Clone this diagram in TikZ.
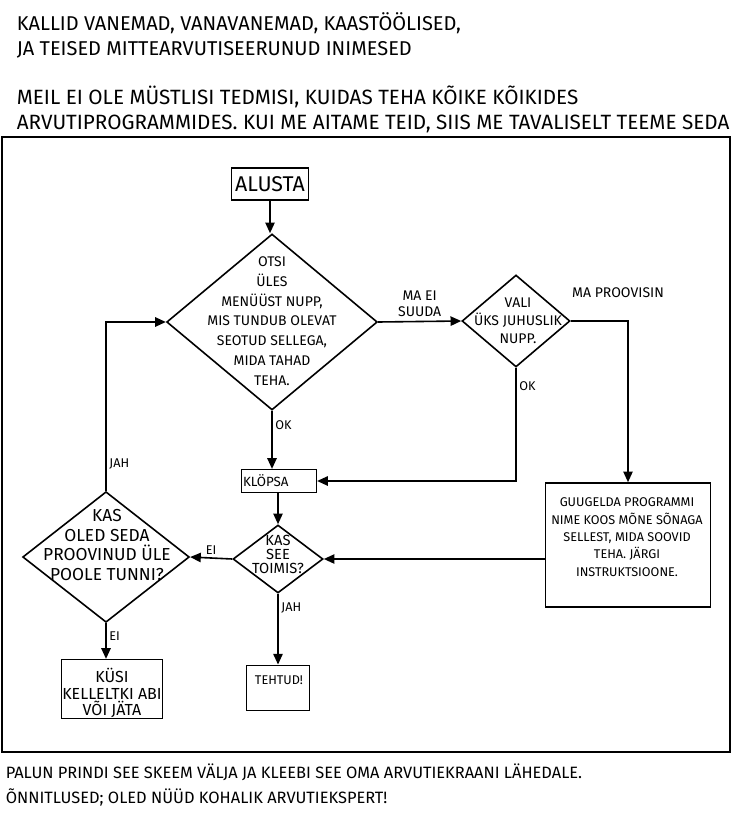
\documentclass[tikz,border=0pt]{standalone}
\usepackage{fontspec}
\setmainfont{Fira Sans}
\usetikzlibrary{arrows.meta}
\usetikzlibrary{shapes.geometric}

\begin{document}
\begin{tikzpicture}[x=0.75pt,y=-0.75pt,line width=1.2pt,
        head/.style={anchor=west,align=left,inner sep=0pt,font=\fontsize{15}{18.75}\selectfont},
        box/.style={draw,line width=1.2pt,inner sep=0pt},
        decision/.style={draw,diamond,line width=1.2pt,inner sep=0pt},
        words/.style={align=center,inner sep=0pt,font=\fontsize{10.5}{14.8}\selectfont},
        tag/.style={inner sep=2pt,font=\fontsize{9.5}{11}\selectfont},
        flow/.style={-{Triangle[length=8pt,width=7pt]}}]
    \useasboundingbox (0,0) rectangle (732,823);

    \node[head] (greet) at (16,35) {KALLID VANEMAD, VANAVANEMAD, KAASTÖÖLISED,\\JA TEISED MITTEARVUTISEERUNUD INIMESED};
    \node[head,font=\fontsize{15.5}{18.75}\selectfont] (intro) at (16,109) {MEIL EI OLE MÜSTLISI TEDMISI, KUIDAS TEHA KÕIKE KÕIKIDES\\ARVUTIPROGRAMMIDES. KUI ME AITAME TEID, SIIS ME TAVALISELT TEEME SEDA};
    \node[head,font=\fontsize{12.3}{18.75}\selectfont] (outro) at (5,785) {PALUN PRINDI SEE SKEEM VÄLJA JA KLEEBI SEE OMA ARVUTIEKRAANI LÄHEDALE.\\ÕNNITLUSED; OLED NÜÜD KOHALIK ARVUTIEKSPERT!};

    \draw[line width=1.6pt] (2,137) rectangle (730,752);

    % the flow chart
    \node[box,minimum width=58pt,minimum height=24pt,font=\fontsize{16}{16}\selectfont] (start) at (270,184) {ALUSTA};
    \node[decision,minimum width=158pt,minimum height=132pt] (find) at (272,322) {};
    \node[words] (findtxt) at (272,321) {OTSI\\ÜLES\\MENÜÜST NUPP,\\MIS TUNDUB OLEVAT\\SEOTUD SELLEGA,\\MIDA TAHAD\\TEHA.};
    \node[decision,minimum width=81pt,minimum height=69pt] (random) at (516,321) {};
    \node[words,font=\fontsize{10.5}{13.5}\selectfont] (randomtxt) at (518,321) {VALI\\ÜKS JUHUSLIK\\NUPP.};
    \node[box,text width=54pt,align=left,inner xsep=1pt,minimum height=17pt,font=\fontsize{10}{10}\selectfont] (click) at (279,481) {KLÖPSA};
    \node[decision,minimum width=67.5pt,minimum height=51pt] (works) at (278,559) {};
    \node[words,font=\fontsize{11}{10.5}\selectfont] (workstxt) at (278,554) {KAS\\SEE\\TOIMIS?};
    \node[decision,minimum width=125pt,minimum height=98pt] (halfhour) at (106,557) {};
    \node[words,font=\fontsize{13}{14.6}\selectfont] (halfhourtxt) at (107,545) {KAS\\OLED SEDA\\PROOVINUD ÜLE\\POOLE TUNNI?};
    \node[box,minimum width=47pt,minimum height=34pt] (done) at (278,688) {};
    \node[words,font=\fontsize{9.5}{9.5}\selectfont] (donetxt) at (279,680) {TEHTUD!};
    \node[box,minimum width=76pt,minimum height=44pt] (ask) at (112,689) {};
    \node[words,font=\fontsize{12}{12.5}\selectfont] (asktxt) at (112,693) {KÜSI\\KELLELTKI ABI\\VÕI JÄTA};
    \node[box,minimum width=124pt,minimum height=93pt] (google) at (628,545) {};
    \node[words,font=\fontsize{9.5}{13}\selectfont] (googletxt) at (627,537) {GUUGELDA PROGRAMMI\\NIME KOOS MÕNE SÕNAGA\\SELLEST, MIDA SOOVID\\TEHA. JÄRGI\\INSTRUKTSIOONE.};

    \node[tag,font=\fontsize{10.5}{11}\selectfont] (tried) at (618,293) {MA PROOVISIN};

    \draw[flow] (start.south) -- (start.south |- find.north);
    \draw[flow] (find.east) -- node[above,align=center,font=\fontsize{10.5}{12}\selectfont] {MA EI\\SUUDA} (random.west);
    \draw[flow] (random.east) -| (google.north);
    \draw[flow] (random.south) |- node[pos=0.08,right,tag] {OK} (click.east);
    \draw[flow] (find.south) -- node[pos=0.25,right,tag] {OK} (find.south |- click.north);
    \draw[flow] (click.south -| works.north) -- (works.north);
    \draw[flow] (google.west |- works.east) -- (works.east);
    \draw[flow] (works.west) -- node[above,tag] {EI} (halfhour.east);
    \draw[flow] (works.south) -- node[pos=0.2,right,tag] {JAH} (works.south |- done.north);
    \draw[flow] (halfhour.north) |- node[pos=0.08,right,tag] {JAH} (find.west);
    \draw[flow] (halfhour.south) -- node[pos=0.35,right,tag] {EI} (halfhour.south |- ask.north);
\end{tikzpicture}
\end{document}
